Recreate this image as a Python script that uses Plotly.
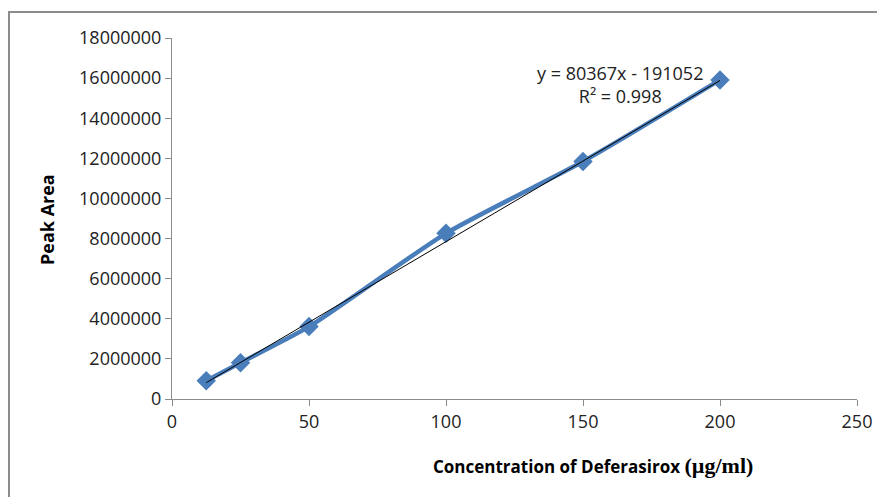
import plotly.graph_objects as go
import numpy as np

concentration = [12.5, 25, 50, 100, 150, 200]
peak_area = [910000, 1810000, 3610000, 8260000, 11840000, 15910000]
slope = 80367
intercept = -191052
r_squared = 0.998

x_ticks = [0, 50, 100, 150, 200, 250]
y_ticks = list(range(0, 18000001, 2000000))

trend_x = np.array([concentration[0], concentration[-1]])
trend_y = slope * trend_x + intercept

FONT = "Open Sans"
BLUE = "#4A7EBB"
AXIS = "#8C8C8C"

# page has an 8px body margin; plot area in the page: x 172..857, y 38..399
W, H = 877, 489
L, R, T, B = 164, 28, 30, 98
PW, PH = W - L - R, H - T - B

fig = go.Figure()
fig.add_trace(go.Scatter(
    x=concentration, y=peak_area, mode="lines+markers",
    line=dict(color=BLUE, width=4.5, shape="spline", smoothing=0.6),
    marker=dict(symbol="diamond", size=15, color=BLUE),
    showlegend=False,
))
fig.add_trace(go.Scatter(
    x=trend_x, y=trend_y, mode="lines",
    line=dict(color="#000000", width=1),
    showlegend=False,
))

fig.update_layout(
    width=W, height=H,
    margin=dict(l=L, r=R, t=T, b=B),
    paper_bgcolor="white", plot_bgcolor="white",
    font=dict(family=FONT, size=16, color="#222222"),
    xaxis=dict(range=[0, 250], tickvals=x_ticks, showgrid=False, zeroline=False,
               showline=True, linecolor=AXIS, linewidth=1,
               ticks="outside", ticklen=6, tickcolor=AXIS,
               tickfont=dict(size=18, family=FONT)),
    yaxis=dict(range=[0, 18000000], tickvals=y_ticks, ticktext=[str(v) for v in y_ticks],
               showgrid=False, zeroline=False,
               showline=True, linecolor=AXIS, linewidth=1,
               ticks="outside", ticklen=6, tickcolor=AXIS,
               tickfont=dict(size=18, family=FONT)),
)

def px_x(p):
    return (p - 8 - L) / PW

def px_y(p):
    return (H - B - (p - 8)) / PH

fig.add_annotation(
    xref="paper", yref="paper", x=px_x(593), y=px_y(465),
    xanchor="center", yanchor="middle",
    text="<b>Concentration of Deferasirox <span style='font-family:Liberation Serif;font-size:22px'>(µg/ml)</span></b>",
    showarrow=False, font=dict(size=17, family=FONT, color="#000000"),
)
fig.add_annotation(
    xref="paper", yref="paper", x=px_x(47), y=px_y(220), textangle=-90,
    xanchor="center", yanchor="middle",
    text="<b>Peak Area</b>",
    showarrow=False, font=dict(size=18, family=FONT, color="#000000"),
)
fig.add_annotation(
    xref="paper", yref="paper", x=px_x(620), y=px_y(84),
    xanchor="center", yanchor="middle",
    text=f"y = {slope}x - {abs(intercept)}<br>R² = {r_squared}",
    showarrow=False, align="center",
    font=dict(size=18, family=FONT, color="#222222"),
)
fig.add_shape(
    type="rect", xref="paper", yref="paper",
    x0=px_x(9), x1=px_x(900),
    y0=px_y(520), y1=px_y(12),
    line=dict(color="#8C8C8C", width=2), fillcolor="rgba(0,0,0,0)", layer="below",
)

fig.write_html("out.html")
